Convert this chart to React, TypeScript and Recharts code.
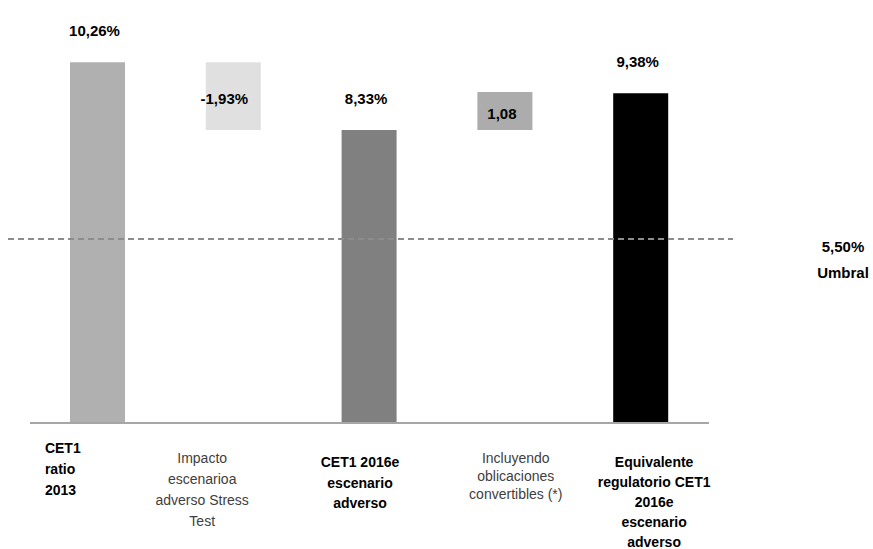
import React from 'react';
import { BarChart, Bar, XAxis, YAxis, ReferenceLine, LabelList, Cell } from 'recharts';

const categories = [
  'CET1 ratio 2013',
  'Impacto escenarioa adverso Stress Test',
  'CET1 2016e escenario adverso',
  'Incluyendo oblicaciones convertibles (*)',
  'Equivalente regulatorio CET1 2016e escenario adverso',
];
const categoryLines = [
  ['CET1', 'ratio', '2013'],
  ['Impacto', 'escenarioa', 'adverso Stress', 'Test'],
  ['CET1 2016e', 'escenario', 'adverso'],
  ['Incluyendo', 'oblicaciones', 'convertibles (*)'],
  ['Equivalente', 'regulatorio CET1', '2016e', 'escenario', 'adverso'],
];
const steps = [10.26, -1.93, 8.33, 1.08, 9.38];
const isTotal = [true, false, true, false, true];
const valueSuffix = ['%', '%', '%', '', '%'];

const umbral = 5.5;
const umbralLine = 5.23; // where the dashed line sits on the bar scale
const umbralName = 'Umbral';

// layout / style only
const barColors = ['#b0b0b0', '#e0e0e0', '#808080', '#acacac', '#000000'];
const tickLayout = [
  { dx: -53, anchor: 'start', top: 25, lh: 21, bold: true },
  { dx: -31.5, anchor: 'middle', top: 35, lh: 21, bold: false },
  { dx: -9.5, anchor: 'middle', top: 39, lh: 20.5, bold: true },
  { dx: 10.5, anchor: 'middle', top: 35, lh: 18, bold: false },
  { dx: 13, anchor: 'middle', top: 39, lh: 20, bold: true },
];

const fmt = (v: number, i: number) => v.toFixed(2).replace('.', ',') + valueSuffix[i];

let running = 0;
const data = categories.map((name, i) => {
  const v = steps[i];
  let range: [number, number];
  if (isTotal[i]) {
    range = [0, v];
    running = v;
  } else {
    range = [Math.min(running, running + v), Math.max(running, running + v)];
    running += v;
  }
  return { name, range, value: v };
});

const CatTick = (props: any) => {
  const { x, y, index } = props;
  const l = tickLayout[index];
  return (
    <g>
      {categoryLines[index].map((t, k) => (
        <text
          key={k}
          x={x + l.dx}
          y={y + l.top + k * l.lh}
          textAnchor={l.anchor}
          dominantBaseline="central"
          fontSize={14}
          fontWeight={l.bold ? 700 : 400}
          fill={l.bold ? '#000' : '#404040'}
        >
          {t}
        </text>
      ))}
    </g>
  );
};

const ValueLabel = (props: any) => {
  const { x, y, width, height, index } = props;
  const v = steps[index];
  const cx = x + width / 2 - (v < 0 ? 9 : 3);
  const cy = isTotal[index] ? y - 32 : y + height / 2 + 2;
  return (
    <text x={cx} y={cy} textAnchor="middle" dominantBaseline="central" fontSize={15} fontWeight={700} fill="#000">
      {fmt(v, index)}
    </text>
  );
};

const UmbralShape = (p: any) => (
  <g>
    <line x1={p.x1 - 22} y1={p.y1} x2={p.x2 + 24} y2={p.y2} stroke="#8c8c8c" strokeWidth={2} strokeDasharray="6 4" />
    <text x={843} y={p.y1 + 7} textAnchor="middle" dominantBaseline="central" fontSize={15} fontWeight={700} fill="#000">
      {umbral.toFixed(2).replace('.', ',')}%
    </text>
    <text x={843} y={p.y1 + 33} textAnchor="middle" dominantBaseline="central" fontSize={15} fontWeight={700} fill="#000">
      {umbralName}
    </text>
  </g>
);

export default function App() {
  return (
    <div style={{ position: 'absolute', left: 0, top: 0, width: 873, height: 549, background: '#fff', fontFamily: '"Liberation Sans", Arial, sans-serif' }}>
      <BarChart width={873} height={549} data={data} margin={{ top: 1, right: 164, bottom: 0, left: 30 }}>
        <XAxis
          dataKey="name"
          height={126}
          tickLine={false}
          tickSize={0}
          tickMargin={0}
          interval={0}
          axisLine={{ stroke: '#a6a6a6', strokeWidth: 2 }}
          tick={<CatTick />}
        />
        <YAxis hide domain={[0, 12]} />
        <Bar dataKey="range" barSize={55} isAnimationActive={false}>
          {data.map((d, i) => (
            <Cell key={d.name} fill={barColors[i]} />
          ))}
          <LabelList dataKey="value" content={<ValueLabel />} />
        </Bar>
        <ReferenceLine y={umbralLine} shape={UmbralShape} />
      </BarChart>
    </div>
  );
}
